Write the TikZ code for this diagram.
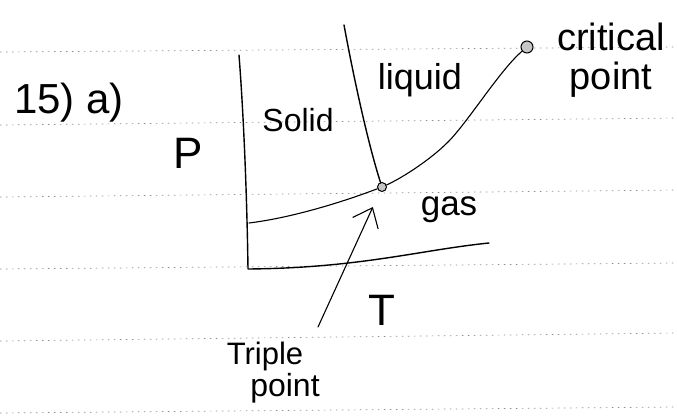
\documentclass[tikz,border=0pt]{standalone}
\usepackage{fontspec}
\setmainfont{Liberation Sans}
\usetikzlibrary{arrows.meta}
\begin{document}
\begin{tikzpicture}[x=1pt,y=-1pt,
  ink/.style={line width=1.4pt, line cap=round, line join=round},
  thinink/.style={line width=1.1pt, line cap=round, line join=round},
  rule/.style={black!45, line width=0.7pt, dash pattern=on 1.5pt off 4.5pt},
  lbl/.style={inner sep=0pt, outer sep=0pt},
  dotmark/.style={circle, draw, line width=1pt, fill=gray!45, inner sep=0pt}]
\useasboundingbox (0,0) rectangle (677,415);
% ruled notebook lines
\foreach \ya/\yb in {52/47, 125/118, 197/190, 269/263, 341/333, 413/407}
  \draw[rule] (0,\ya) -- (677,\yb);
% key points
\node[dotmark, minimum size=12pt] (crit) at (527,47) {};
\node[dotmark, minimum size=9pt] (triple) at (382,187) {};
\coordinate (ptop) at (239,55);
\coordinate (origin) at (248,269);
\coordinate (tend) at (489,243);
\coordinate (sltop) at (344,25);
\coordinate (sgend) at (249,223);
\coordinate (lgmid) at (448,142);
\coordinate (arrowfoot) at (318,327);
% axes
\draw[ink] (ptop) .. controls (244,120) and (247,200) .. (origin)
  .. controls (360,268) and (420,250) .. (tend);
% phase boundaries
\draw[ink] (sltop) .. controls (356,90) and (370,150) .. (triple);
\draw[thinink] (triple) .. controls (340,203) and (290,218) .. (sgend);
\draw[thinink] (triple) .. controls (402,178) and (430,160) .. (lgmid)
  .. controls (468,122) and (500,70) .. (crit);
% arrow to triple point
\draw[thinink, -{Straight Barb[length=17pt, width=28pt, line width=1.1pt]},
  shorten >=17pt] (arrowfoot) -- (triple);
% labels
\node[lbl, font=\fontsize{42}{46}\selectfont] (qnum) at (69,103) {15) a)};
\node[lbl, font=\fontsize{44}{48}\selectfont] (plabel) at (188,153) {P};
\node[lbl, font=\fontsize{44}{48}\selectfont] (tlabel) at (382,310) {T};
\node[lbl, font=\fontsize{32}{36}\selectfont] (solid) at (298,120) {Solid};
\node[lbl, font=\fontsize{36}{40}\selectfont] (liquid) at (420,80) {liquid};
\node[lbl, font=\fontsize{35}{39}\selectfont] (gas) at (449,210) {gas};
\node[lbl, font=\fontsize{38}{39}\selectfont, align=center] (critlabel) at (611,60) {critical\\point};
\node[lbl, font=\fontsize{31}{34}\selectfont] (tplabel) at (265,356) {Triple};
\node[lbl, font=\fontsize{32}{34}\selectfont] (tplabelb) at (285,388) {point};
\end{tikzpicture}
\end{document}
